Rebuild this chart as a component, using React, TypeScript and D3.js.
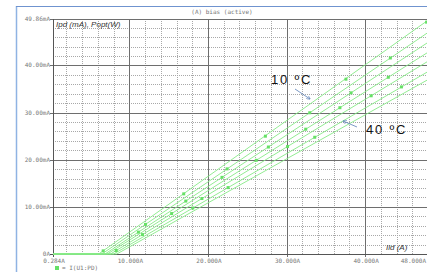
import { useEffect, useRef } from 'react';
import * as d3 from 'd3';

// Ild (A) -> Ipd (mA), one trace per temperature step, 10 ºC (top) to 40 ºC (bottom)
const seriesNames = ['T10', 'T15', 'T20', 'T25', 'T30', 'T35', 'T40'];

const seriesPoints: [number, number][][] = [
  [[0.284, 0], [6.1, 0], [48.0, 49.6]],
  [[0.284, 0], [6.5, 0], [48.0, 47.0]],
  [[0.284, 0], [6.9, 0], [48.0, 44.9]],
  [[0.284, 0], [7.2, 0], [48.0, 42.8]],
  [[0.284, 0], [7.6, 0], [48.0, 40.9]],
  [[0.284, 0], [8.0, 0], [48.0, 38.7]],
  [[0.284, 0], [8.4, 0], [48.0, 37.0]],
];

const seriesMarkers: [number, number][][] = [
  [[6.67, 0.67], [16.92, 12.76], [27.31, 25.0], [37.56, 37.09], [47.82, 49.19]],
  [[12.05, 6.29], [22.44, 18.06], [32.95, 29.97], [43.21, 41.59]],
  [[11.15, 4.64], [17.18, 11.23], [21.79, 16.26], [27.69, 22.7], [38.21, 34.19]],
  [[15.38, 8.58], [26.15, 19.88], [32.44, 26.48], [36.79, 31.04], [42.95, 37.5]],
  [[8.33, 0.74], [11.67, 4.12], [19.23, 11.77], [30.13, 22.8], [40.77, 33.57]],
  [[18.08, 9.76], [22.56, 14.09], [33.59, 24.77], [44.62, 35.45]],
  [],
];

const xTicks = [0.284, 10, 20, 30, 40, 48];
const xTickLabels = ['0.284A', '10.000A', '20.000A', '30.000A', '40.000A', '48.000A'];
const yTicks = [0, 10, 20, 30, 40, 49.86];
const yTickLabels = ['0A', '10.00mA', '20.00mA', '30.00mA', '40.00mA', '49.86mA'];
const xMinor = [2, 4, 6, 8, 12, 14, 16, 18, 22, 24, 26, 28, 32, 34, 36, 38, 42, 44, 46];
const yMinor = [2, 4, 6, 8, 12, 14, 16, 18, 22, 24, 26, 28, 32, 34, 36, 38, 42, 44, 46, 48];

export default function App() {
  const svgRef = useRef<SVGSVGElement>(null);

  useEffect(() => {
    if (!svgRef.current) return;
    const width = 427;
    const height = 272;
    const svg = d3.select(svgRef.current);
    svg.selectAll('*').remove();
    svg.attr('width', width).attr('height', height);

    const x = d3.scaleLinear().domain([0.284, 48]).range([53, 428]);
    const y = d3.scaleLinear().domain([0, 49.86]).range([254, 19]);
    const [x0, x1] = x.range();
    const [y0, y1] = y.range();

    svg.append('rect').attr('width', width).attr('height', height).attr('fill', '#fff');

    // window frame
    svg.append('line').attr('x1', 16.5).attr('x2', 16.5).attr('y1', 6).attr('y2', height)
      .attr('stroke', '#8fb3e3').attr('stroke-width', 1.5);
    svg.append('line').attr('x1', 16).attr('x2', width).attr('y1', 6.5).attr('y2', 6.5)
      .attr('stroke', '#6f93cf').attr('stroke-width', 1.2);

    const grid = svg.append('g');
    // minor grid
    grid.selectAll('.vx').data(xMinor).join('line')
      .attr('x1', (d) => Math.round(x(d)) + 0.5).attr('x2', (d) => Math.round(x(d)) + 0.5)
      .attr('y1', y1).attr('y2', y0)
      .attr('stroke', '#a8a8a8').attr('stroke-dasharray', '1,1');
    grid.selectAll('.hy').data(yMinor).join('line')
      .attr('y1', (d) => Math.round(y(d)) + 0.5).attr('y2', (d) => Math.round(y(d)) + 0.5)
      .attr('x1', x0).attr('x2', x1)
      .attr('stroke', '#a8a8a8').attr('stroke-dasharray', '1,1');
    // major grid
    grid.selectAll('.mx').data(xTicks.slice(1, 5)).join('line')
      .attr('x1', (d) => Math.round(x(d)) + 0.5).attr('x2', (d) => Math.round(x(d)) + 0.5)
      .attr('y1', y1).attr('y2', y0 + 3)
      .attr('stroke', '#6e6e6e');
    grid.selectAll('.my').data(yTicks.slice(1)).join('line')
      .attr('y1', (d) => Math.round(y(d)) + 0.5).attr('y2', (d) => Math.round(y(d)) + 0.5)
      .attr('x1', x0 - 3).attr('x2', x1)
      .attr('stroke', '#6e6e6e');
    // axes
    svg.append('line').attr('x1', x0 + 0.5).attr('x2', x0 + 0.5).attr('y1', y1).attr('y2', y0 + 3)
      .attr('stroke', '#555');
    svg.append('line').attr('x1', x0 - 3).attr('x2', x1).attr('y1', y0 + 0.5).attr('y2', y0 + 0.5)
      .attr('stroke', '#555');

    // tick labels
    const mono = "'DejaVu Sans Mono', monospace";
    svg.append('g').selectAll('text').data(yTicks).join('text')
      .attr('x', x0 - 3).attr('y', (d) => y(d) + 2)
      .attr('text-anchor', 'end').attr('font-family', mono).attr('font-size', 6)
      .attr('fill', '#777').text((_, i) => yTickLabels[i]);
    svg.append('g').selectAll('text').data(xTicks).join('text')
      .attr('x', (d, i) => (i === xTicks.length - 1 ? 426 : x(d) + 1)).attr('y', y0 + 9)
      .attr('text-anchor', (_, i) => (i === xTicks.length - 1 ? 'end' : 'middle'))
      .attr('font-family', mono).attr('font-size', 6)
      .attr('fill', '#777').text((_, i) => xTickLabels[i]);

    // title
    svg.append('text').attr('x', 222).attr('y', 14).attr('text-anchor', 'middle')
      .attr('font-family', mono).attr('font-size', 6).attr('fill', '#777')
      .text('(A) bias (active)');

    // traces
    svg.append('clipPath').attr('id', 'plot-clip').append('rect')
      .attr('x', x0).attr('y', y1).attr('width', x1 - x0).attr('height', y0 - y1 + 1);
    const plot = svg.append('g').attr('clip-path', 'url(#plot-clip)');
    const line = d3.line<[number, number]>().x((d) => x(d[0])).y((d) => y(d[1]));
    plot.selectAll('path.trace').data(seriesPoints).join('path')
      .attr('class', 'trace')
      .attr('d', (d) => line(d))
      .attr('fill', 'none').attr('stroke', '#86ea86').attr('stroke-width', 0.9)
      .attr('data-name', (_, i) => seriesNames[i]);
    const markers = seriesMarkers.flat();
    plot.selectAll('rect.mk').data(markers).join('rect')
      .attr('class', 'mk')
      .attr('x', (d) => x(d[0]) - 1.5).attr('y', (d) => y(d[1]) - 1.5)
      .attr('width', 3).attr('height', 3).attr('fill', '#66e066');

    // axis titles
    svg.append('text').attr('x', 56).attr('y', 27).attr('font-family', "'Liberation Sans', Arial")
      .attr('font-style', 'italic').attr('font-size', 8).attr('fill', '#333')
      .text('Ipd (mA), Popt(W)');
    svg.append('text').attr('x', 386).attr('y', 250).attr('font-family', "'Liberation Sans', Arial")
      .attr('font-style', 'italic').attr('font-size', 8).attr('fill', '#333')
      .text('Ild (A)');

    // annotations
    const sans = "'Liberation Sans', Arial";
    svg.append('text').attr('x', 271).attr('y', 84).attr('font-family', sans)
      .attr('font-size', 13).attr('letter-spacing', 1.8).attr('fill', '#111').text('10 ºC');
    svg.append('text').attr('x', 366).attr('y', 134).attr('font-family', sans)
      .attr('font-size', 13).attr('letter-spacing', 1.8).attr('fill', '#111').text('40 ºC');
    const defs = svg.append('defs');
    defs.append('marker').attr('id', 'ah').attr('viewBox', '0 0 10 10')
      .attr('refX', 9).attr('refY', 5).attr('markerWidth', 5).attr('markerHeight', 5)
      .attr('orient', 'auto')
      .append('path').attr('d', 'M0,0 L10,5 L0,10').attr('fill', 'none')
      .attr('stroke', '#5a7fb5').attr('stroke-width', 1.5);
    svg.append('line').attr('x1', 295).attr('y1', 89).attr('x2', 310).attr('y2', 99)
      .attr('stroke', '#5a7fb5').attr('stroke-width', 0.8).attr('marker-end', 'url(#ah)');
    svg.append('line').attr('x1', 357).attr('y1', 127).attr('x2', 343).attr('y2', 121)
      .attr('stroke', '#5a7fb5').attr('stroke-width', 0.8).attr('marker-end', 'url(#ah)');

    // legend
    svg.append('rect').attr('x', 55).attr('y', 266).attr('width', 4).attr('height', 4)
      .attr('fill', '#66e066');
    svg.append('text').attr('x', 62).attr('y', 270).attr('font-family', mono)
      .attr('font-size', 6).attr('fill', '#777').text('= I(U1:PD)');
  }, []);

  return (
    <div style={{ position: 'absolute', left: 0, top: 0 }}>
      <svg ref={svgRef} style={{ display: 'block' }} />
    </div>
  );
}
